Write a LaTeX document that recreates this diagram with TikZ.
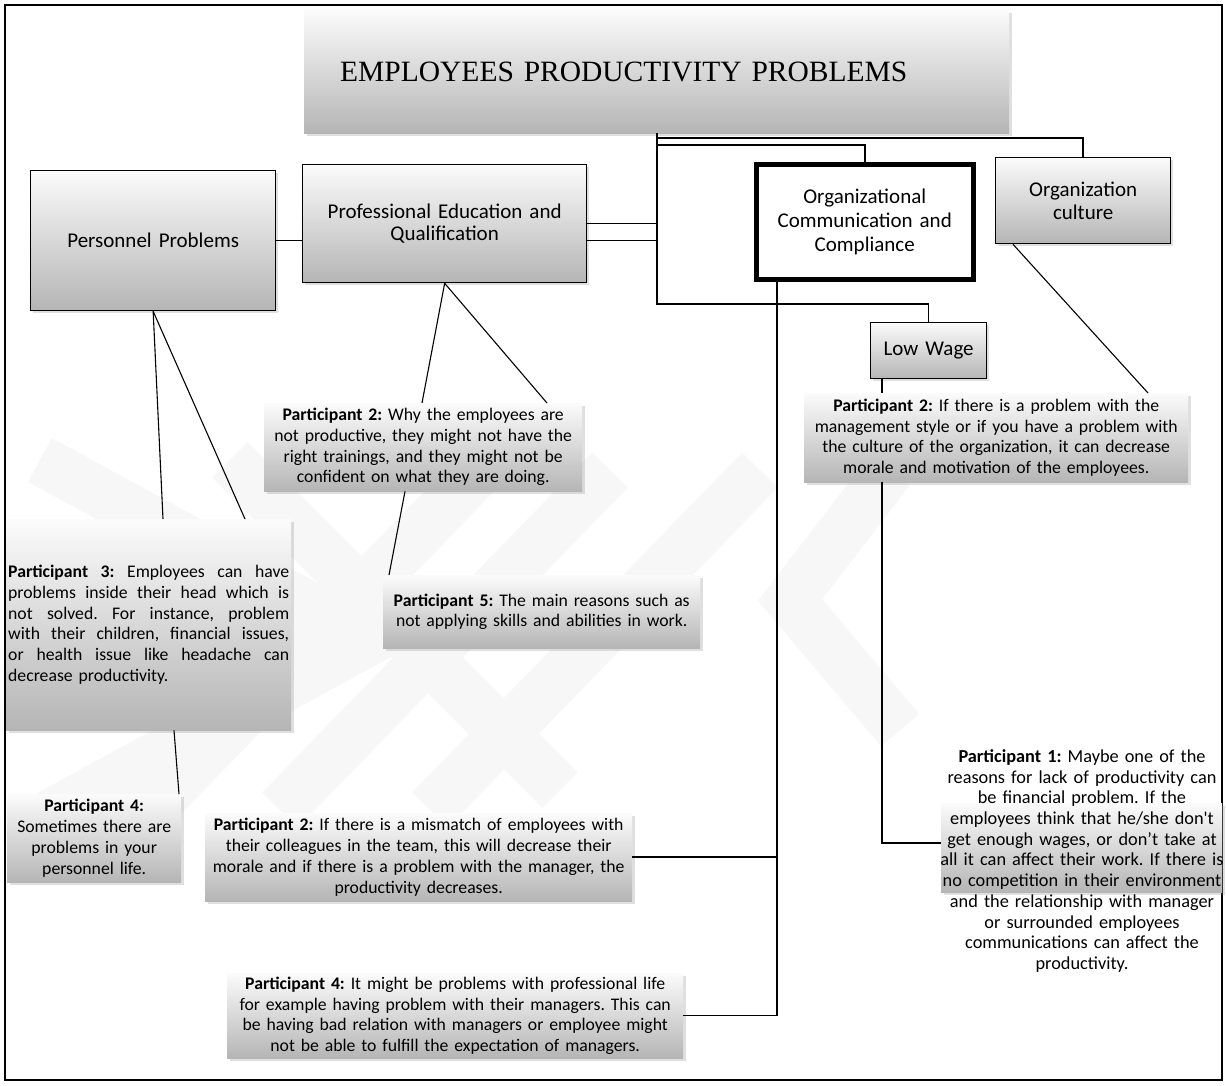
\documentclass[tikz,border=0pt]{standalone}
\usepackage{fontspec}
\setmainfont{Carlito}
\newfontfamily\titlefont{Liberation Serif}
\usetikzlibrary{shadows,calc}
\frenchspacing

\begin{document}
\begin{tikzpicture}[x=1pt,y=-1pt,
  gradbox/.style={rectangle, anchor=north west, top color=gray!3, bottom color=gray!58,
    drop shadow={shadow xshift=2.5pt, shadow yshift=-2.5pt, opacity=0.25}, inner sep=3pt, align=center},
  labelbox/.style={gradbox, draw=black, line width=1.3pt, font=\fontsize{21}{23.5}\selectfont},
  quotebox/.style={gradbox, font=\fontsize{17.7}{20.7}\selectfont},
  conn/.style={draw=black, line width=1.5pt},
  spoke/.style={draw=black, line width=1.1pt},
  band/.style={draw=gray!6, line width=50pt, line cap=butt}
]
\useasboundingbox (0,0) rectangle (1226,1085);

% faint background emblem
\begin{scope}
  \draw[band] (40,460) -- (370,640) -- (40,820);
  \draw[band] (150,810) -- (480,470);
  \draw[band] (280,810) -- (610,470);
  \draw[band] (430,810) -- (760,470);
  \draw[band] (230,460) -- (560,790);
  \draw[band] (890,470) -- (790,600) -- (900,730);
\end{scope}

% outer frame
\draw[line width=1.3pt] (5,5) rectangle (1222,1080);

% headline
\node[gradbox, minimum width=705pt, minimum height=123pt, text width=633pt, inner xsep=36pt,
      align=left, font=\titlefont\fontsize{29.5}{32}\selectfont] (title) at (304,10)
  {EMPLOYEES PRODUCTIVITY PROBLEMS};

% category boxes
\node[labelbox, minimum width=245pt, minimum height=140pt, text width=235pt] (personnel) at (30,170)
  {Personnel Problems};
\node[labelbox, minimum width=284pt, minimum height=118pt, text width=274pt, font=\fontsize{21}{22.5}\selectfont] (profed) at (302,164)
  {Professional Education and\\Qualification};
\node[rectangle, anchor=north west, draw=black, fill=white, line width=4.5pt, align=center,
      font=\fontsize{21}{24}\selectfont, minimum width=217pt, minimum height=115pt, text width=207pt,
      inner sep=3pt] (orgcomm) at (754,162)
  {Organizational\\Communication and\\Compliance};
\node[labelbox, minimum width=175pt, minimum height=86pt, text width=165pt] (culture) at (995,157)
  {Organization\\culture};
\node[labelbox, minimum width=116pt, minimum height=56pt, text width=106pt] (lowwage) at (870,322)
  {Low Wage};

% interview statements
\node[quotebox, minimum width=384pt, minimum height=89pt, text width=378pt] (p2r) at (804,393)
  {\textbf{Participant 2:} If there is a problem with the\\management style or if you have a problem with\\the culture of the organization, it can decrease\\morale and motivation of the employees.};
\node[quotebox, minimum width=318pt, minimum height=88pt, text width=312pt] (p2l) at (264,403)
  {\textbf{Participant 2:} Why the employees are\\not productive, they might not have the\\right trainings, and they might not be\\confident on what they are doing.};
\node[quotebox, minimum width=317pt, minimum height=73pt, text width=311pt] (p5) at (383,575)
  {\textbf{Participant 5:} The main reasons such as\\not applying skills and abilities in work.};
\node[quotebox, minimum width=285pt, minimum height=211pt, text width=281pt, inner xsep=2pt, align=left] (p3) at (6,519)
  {\textbf{Participant}\hfill\textbf{3:}\hfill Employees\hfill can\hfill have\\
   problems\hfill inside\hfill their\hfill head\hfill which\hfill is\\
   not\hfill solved.\hfill For\hfill instance,\hfill problem\\
   with\hfill their\hfill children,\hfill financial\hfill issues,\\
   or\hfill health\hfill issue\hfill like\hfill headache\hfill can\\
   decrease productivity.};
\node[quotebox, minimum width=174pt, minimum height=88pt, text width=170pt, inner xsep=2pt] (p4l) at (7,794)
  {\textbf{Participant 4:}\\Sometimes there are\\problems in your\\personnel life.};
\node[quotebox, minimum width=427pt, minimum height=88pt, text width=421pt] (p2m) at (205,813)
  {\textbf{Participant 2:} If there is a mismatch of employees with\\their colleagues in the team, this will decrease their\\morale and if there is a problem with the manager, the\\productivity decreases.};
\node[quotebox, minimum width=456pt, minimum height=85pt, text width=450pt] (p4b) at (227,973)
  {\textbf{Participant 4:} It might be problems with professional life\\for example having problem with their managers. This can\\be having bad relation with managers or employee might\\not be able to fulfill the expectation of managers.};
\node[gradbox, minimum width=281pt, minimum height=89pt] (p1box) at (941,803) {};
\node[align=center, font=\fontsize{18.3}{20.7}\selectfont, text width=290pt, inner sep=0pt] (p1) at (1082,861)
  {\textbf{Participant 1:} Maybe one of the\\reasons for lack of productivity can\\be financial problem. If the\\employees think that he/she don\textquotesingle t\\get enough wages, or don’t take at\\all it can affect their work. If there is\\no competition in their environment\\and the relationship with manager\\or surrounded employees\\communications can affect the\\productivity.};

% tree connectors
\coordinate (hub) at (657,304);
\coordinate (b1) at (657,138);
\coordinate (b2) at (657,145);
\draw[conn] (title.south -| hub) -- (hub) -| (lowwage.north);
\draw[conn] (b1) -| (culture.north);
\draw[conn] (b2) -| (orgcomm.north);
\draw[conn] (profed.east) -- (profed.east -| hub);
\draw[conn] ([yshift=-17pt]profed.east) -- ([yshift=-17pt]profed.east -| hub);
\draw[conn] (personnel.east) -- (personnel.east -| profed.west);

% statement links
\draw[spoke] (personnel.south) -- ([xshift=157pt]p3.north west);
\draw[spoke] (personnel.south) -- ([xshift=239pt]p3.north west);
\draw[spoke] (profed.south) -- ([xshift=158pt]p2l.north west);
\draw[spoke] (profed.south) -- ([xshift=283pt]p2l.north west);
\draw[spoke] ([xshift=141pt]p2l.south west) -- ([xshift=6pt]p5.north west);
\draw[spoke] ([xshift=168pt]p3.south west) -- ([xshift=172pt]p4l.north west);
\draw[spoke] ([xshift=18pt]culture.south west) -- ([xshift=344pt]p2r.north west);
\draw[conn] ([xshift=12pt]lowwage.south west) -- ([xshift=12pt]lowwage.south west |- p2r.north);
\draw[conn] ([xshift=78pt]p2r.south west) |- ([yshift=4.5pt]p1box.west);
\draw[conn] ([xshift=23pt]orgcomm.south west) |- (p4b.east);
\draw[conn] (p2m.east) -| ([xshift=23pt]orgcomm.south west);
\end{tikzpicture}
\end{document}
